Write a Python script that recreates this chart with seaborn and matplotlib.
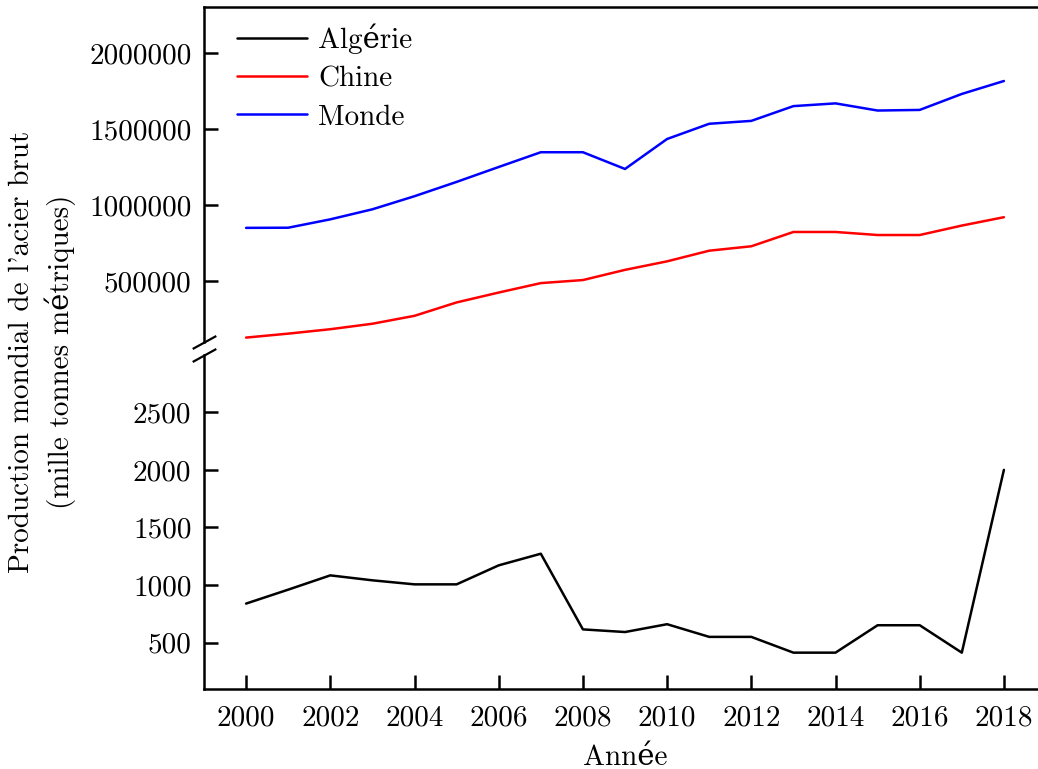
import matplotlib
matplotlib.use("Agg")
import matplotlib.pyplot as plt
import pandas as pd
import seaborn as sns

# Crude steel production, thousand metric tonnes
years = list(range(2000, 2019))
algerie = [839, 960, 1084, 1041, 1006, 1006, 1171, 1272, 615, 592,
           660, 550, 550, 413, 413, 651, 651, 413, 2000]
chine = [129000, 155000, 184000, 220000, 272000, 360000, 425000, 487000,
         507000, 574000, 630000, 700000, 729000, 823000, 823000, 803000,
         803000, 865000, 920000]
monde = [850000, 851000, 906000, 972000, 1058000, 1152000, 1250000,
         1347000, 1347000, 1237000, 1434000, 1534000, 1553000, 1650000,
         1668000, 1621000, 1625000, 1730000, 1815000]

x_ticks = list(range(2000, 2019, 2))
top_ticks = [500000, 1000000, 1500000, 2000000]
bottom_ticks = [500, 1000, 1500, 2000, 2500]

df = pd.DataFrame({"annee": years, "Algérie": algerie,
                   "Chine": chine, "Monde": monde})

sns.set_style("ticks")
plt.rcParams["font.family"] = ["cmr10", "DejaVu Serif"]
plt.rcParams["axes.formatter.use_mathtext"] = True
plt.rcParams["font.size"] = 21
plt.rcParams["axes.linewidth"] = 1.8
plt.rcParams["axes.edgecolor"] = "black"
plt.rcParams["xtick.color"] = "black"
plt.rcParams["ytick.color"] = "black"
plt.rcParams["text.color"] = "black"
plt.rcParams["axes.labelcolor"] = "black"

FS = 21

fig = plt.figure(figsize=(10.38, 7.69), dpi=100)
W, H = 1038, 769
left, right = 204 / W, 1046 / W
ax_top = fig.add_axes([left, 1 - 342 / H, right - left, (342 - 7.2) / H])
ax_bot = fig.add_axes([left, 1 - 688.7 / H, right - left, (688.7 - 354.7) / H])

sns.lineplot(data=df, x="annee", y="Monde", ax=ax_top, color="#0000ff",
             linewidth=1.8, label="Monde")
sns.lineplot(data=df, x="annee", y="Chine", ax=ax_top, color="#ff0000",
             linewidth=1.8, label="Chine")
sns.lineplot(data=df, x="annee", y="Algérie", ax=ax_bot, color="black",
             linewidth=1.8, label="Algérie")

for ax in (ax_top, ax_bot):
    ax.set_xlim(1999, 2019)
    ax.set_xticks(x_ticks)
    ax.tick_params(direction="in", length=10, width=1.8, labelsize=FS,
                   pad=9, colors="black")
    ax.set_ylabel("")
    ax.spines["right"].set_visible(False)
    leg = ax.get_legend()
    if leg is not None:
        leg.remove()

ax_top.set_ylim(100000, 2300000)
ax_top.set_yticks(top_ticks)
ax_top.set_yticklabels([str(t) for t in top_ticks])
ax_top.spines["bottom"].set_visible(False)
ax_top.tick_params(axis="x", which="both", bottom=False, labelbottom=False)
ax_top.set_xlabel("")

ax_bot.set_ylim(100, 3000)
ax_bot.set_yticks(bottom_ticks)
ax_bot.set_yticklabels([str(t) for t in bottom_ticks])
ax_bot.spines["top"].set_visible(False)
ax_bot.tick_params(axis="x", pad=12)
ax_bot.set_xticklabels([str(t) for t in x_ticks])
ax_bot.set_xlabel("Année", fontsize=FS, labelpad=9)

# Break marks on the left spine
d = 0.55
kw = dict(marker=[(-1, -d), (1, d)], markersize=17, linestyle="none",
          color="black", mec="black", mew=1.6, clip_on=False)
ax_top.plot([0], [0], transform=ax_top.transAxes, **kw)
ax_bot.plot([0], [1], transform=ax_bot.transAxes, **kw)

# Legend combining both panels
h_top, l_top = ax_top.get_legend_handles_labels()
h_bot, l_bot = ax_bot.get_legend_handles_labels()
handles = {lab: h for h, lab in zip(h_top + h_bot, l_top + l_bot)}
order = ["Algérie", "Chine", "Monde"]
ax_top.legend([handles[k] for k in order], order, loc="upper left",
              bbox_to_anchor=(0.025, 0.985), frameon=False, fontsize=FS,
              handlelength=2.4, handletextpad=0.4, labelspacing=0.4,
              borderaxespad=0.0)

fig.text(42 / W, 1 - 352 / H,
         "Production mondial de l'acier brut\n(mille tonnes métriques)",
         rotation=90, ha="center", va="center", multialignment="center",
         fontsize=FS, linespacing=1.4)

fig.savefig("out.png", dpi=100)
